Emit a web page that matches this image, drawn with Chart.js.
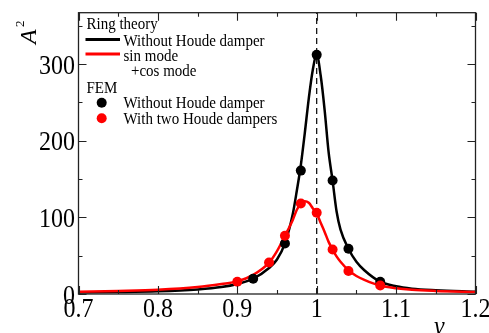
<!DOCTYPE html>
<html><head><meta charset="utf-8">
<script src="https://cdn.jsdelivr.net/npm/chart.js@4/dist/chart.umd.min.js"></script>
<style>html,body{margin:0;padding:0;background:#fff}canvas{display:block}</style>
</head><body><canvas id="c" width="489" height="333"></canvas>
<script>
// ---- data ----
const nuTheory    = [0.70,0.75,0.80,0.85,0.88,0.90,0.92,0.94,0.95,0.96,0.97,0.975,0.98,0.985,0.99,0.995,1.00,1.005,1.01,1.015,1.02,1.025,1.03,1.04,1.05,1.06,1.08,1.10,1.12,1.15,1.20];
const ringWithout = [2,2.5,3.5,6,9,13,20,34,45,66,105,135,168,210,255,292,312,285,240,185,148,108,84,59,42,31,16,10,7,5,3];
const ringSinCos  = [3,4,5.5,9,13,16.5,25,41,56,76,97,110,118,121,119,112,105,93,81,68,58,49,42,31,23.5,18.5,11,7.5,5.5,4,2.5];
const nuFemWithout = [0.92,0.96,0.98,1.00,1.02,1.04,1.08];
const femWithout   = [20,66,161,312,148,59,16];
const nuFemTwo     = [0.90,0.94,0.96,0.98,1.00,1.02,1.04,1.08];
const femTwo       = [16,41,76,118,106,58,30,11];
const resonanceNu  = 1.0;
const xMajorTicks = [0.7,0.8,0.9,1.0,1.1,1.2];
const xTickLabels = ['0.7','0.8','0.9','1','1.1','1.2'];
const xMinorTicks = [0.75,0.85,0.95,1.05,1.15];
const yMajorTicks = [0,100,200,300];
const yTickLabels = ['0','100','200','300'];
const yMinorTicks = [50,150,250,350];
const X_MIN = 0.7, X_MAX = 1.2, Y_MIN = 0, Y_MAX = 367;

const toXY = (xs, ys) => xs.map((x, i) => ({x: x, y: ys[i]}));
const SY = 1.13;
const SERIF = '"Liberation Serif","Times New Roman",serif';

function sText(ctx, s, x, y, font, align) {
  ctx.save();
  ctx.font = font; ctx.textAlign = align || 'left'; ctx.textBaseline = 'alphabetic';
  ctx.fillStyle = '#000';
  ctx.translate(x, y); ctx.scale(1, SY); ctx.fillText(s, 0, 0);
  ctx.restore();
}

const decor = {
  id: 'decor',
  afterDraw(chart) {
    const ctx = chart.ctx, a = chart.chartArea;
    const xs = chart.scales.x, ys = chart.scales.y;
    ctx.save();
    // frame
    ctx.strokeStyle = '#222'; ctx.lineWidth = 1.3;
    ctx.strokeRect(a.left, a.top, a.right - a.left, a.bottom - a.top);
    // ticks (inward, mirrored)
    ctx.lineWidth = 1.1;
    const tx = (vals, len) => vals.forEach(v => {
      const p = Math.round(xs.getPixelForValue(v)) + 0.5;
      ctx.beginPath(); ctx.moveTo(p, a.bottom); ctx.lineTo(p, a.bottom - len);
      ctx.moveTo(p, a.top); ctx.lineTo(p, a.top + len); ctx.stroke();
    });
    const ty = (vals, len) => vals.forEach(v => {
      const p = Math.round(ys.getPixelForValue(v)) + 0.5;
      ctx.beginPath(); ctx.moveTo(a.left, p); ctx.lineTo(a.left + len, p);
      ctx.moveTo(a.right, p); ctx.lineTo(a.right - len, p); ctx.stroke();
    });
    tx(xMajorTicks, 8); tx(xMinorTicks, 4);
    ty(yMajorTicks, 8); ty(yMinorTicks, 4);
    // tick labels
    const tf = '24px ' + SERIF;
    xMajorTicks.forEach((v, i) => sText(ctx, xTickLabels[i], xs.getPixelForValue(v), 316.5, tf, 'center'));
    yMajorTicks.forEach((v, i) => sText(ctx, yTickLabels[i], 75, ys.getPixelForValue(v) + 9.5, tf, 'right'));
    // axis titles
    sText(ctx, 'ν', 434, 335, 'italic 24px ' + SERIF, 'left');
    ctx.save();
    ctx.fillStyle = '#000';
    ctx.translate(36, 44); ctx.rotate(-Math.PI / 2);
    ctx.font = 'italic 24px ' + SERIF; ctx.textAlign = 'left'; ctx.textBaseline = 'alphabetic';
    ctx.fillText('A', 0, 0);
    ctx.font = '13px ' + SERIF;
    ctx.fillText('2', 17, -12.5);
    ctx.restore();
    // legend
    const lf = '15px ' + SERIF;
    sText(ctx, 'Ring theory', 86.5, 29, lf);
    ctx.lineWidth = 3;
    ctx.strokeStyle = '#000'; ctx.beginPath(); ctx.moveTo(85.5, 39.5); ctx.lineTo(120, 39.5); ctx.stroke();
    sText(ctx, 'Without Houde damper', 123.5, 45.5, lf);
    ctx.strokeStyle = '#ff0000'; ctx.beginPath(); ctx.moveTo(85.5, 54); ctx.lineTo(120, 54); ctx.stroke();
    sText(ctx, 'sin mode', 123.5, 61, lf);
    sText(ctx, '+cos mode', 131, 76, lf);
    sText(ctx, 'FEM', 86.5, 92.5, lf);
    ctx.fillStyle = '#000'; ctx.beginPath(); ctx.arc(101.7, 102.7, 5, 0, Math.PI * 2); ctx.fill();
    sText(ctx, 'Without Houde damper', 123.5, 108.3, lf);
    ctx.fillStyle = '#ff0000'; ctx.beginPath(); ctx.arc(101.7, 118.3, 5, 0, Math.PI * 2); ctx.fill();
    sText(ctx, 'With two Houde dampers', 123.5, 123.5, lf);
    ctx.restore();
  }
};

new Chart(document.getElementById('c'), {
  type: 'scatter',
  data: {
    datasets: [
      { label: 'FEM with two Houde dampers', data: toXY(nuFemTwo, femTwo), showLine: false,
        pointRadius: 5, pointBackgroundColor: '#ff0000', pointBorderWidth: 0, pointBorderColor: '#ff0000' },
      { label: 'FEM without Houde damper', data: toXY(nuFemWithout, femWithout), showLine: false,
        pointRadius: 5, pointBackgroundColor: '#000', pointBorderWidth: 0, pointBorderColor: '#000' },
      { label: 'sin mode +cos mode', data: toXY(nuTheory, ringSinCos), showLine: true, pointRadius: 0,
        borderColor: '#ff0000', borderWidth: 2.5, cubicInterpolationMode: 'monotone' },
      { label: 'Ring theory without Houde damper', data: toXY(nuTheory, ringWithout), showLine: true, pointRadius: 0,
        borderColor: '#000', borderWidth: 2.5, cubicInterpolationMode: 'monotone' },
      { label: 'resonance', data: [{x: resonanceNu, y: Y_MIN}, {x: resonanceNu, y: Y_MAX}], showLine: true,
        pointRadius: 0, borderColor: '#000', borderWidth: 1.2, borderDash: [6, 4] }
    ]
  },
  options: {
    responsive: false, animation: false, devicePixelRatio: 1,
    layout: { padding: { left: 78.5, right: 13.5, top: 12.7, bottom: 39 } },
    scales: {
      x: { type: 'linear', min: X_MIN, max: X_MAX, display: false },
      y: { type: 'linear', min: Y_MIN, max: Y_MAX, display: false }
    },
    plugins: { legend: { display: false }, tooltip: { enabled: false } }
  },
  plugins: [decor]
});
</script></body></html>
